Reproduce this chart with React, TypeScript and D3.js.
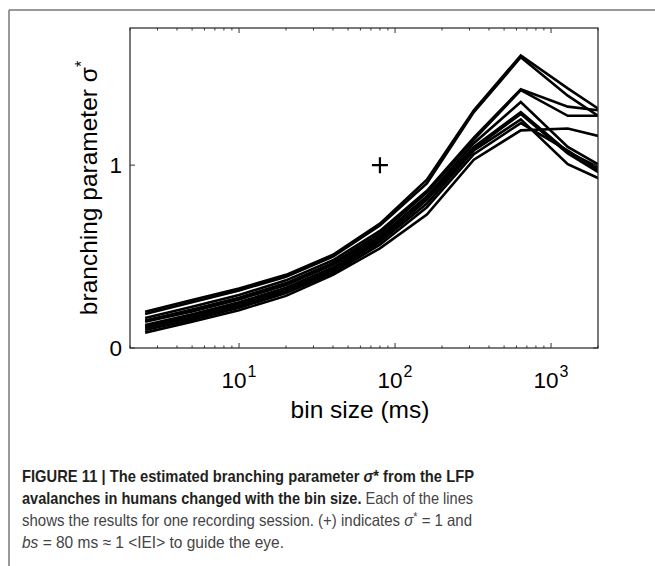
import React from "react";
import * as d3 from "d3";

const binSizes = [2.5, 5, 10, 20, 40, 80, 160, 320, 640, 1280, 2560];
const sessionA = [0.198, 0.262, 0.325, 0.4, 0.51, 0.68, 0.92, 1.3, 1.6, 1.42, 1.249];
const sessionB = [0.186, 0.25, 0.315, 0.39, 0.5, 0.67, 0.9, 1.29, 1.59, 1.38, 1.209];
const sessionC = [0.164, 0.225, 0.29, 0.37, 0.48, 0.64, 0.86, 1.15, 1.415, 1.32, 1.289];
const sessionD = [0.15, 0.21, 0.275, 0.355, 0.465, 0.625, 0.85, 1.14, 1.41, 1.27, 1.27];
const sessionE = [0.144, 0.2, 0.265, 0.345, 0.455, 0.61, 0.83, 1.12, 1.345, 1.1, 0.952];
const sessionF = [0.126, 0.185, 0.25, 0.33, 0.44, 0.6, 0.82, 1.1, 1.29, 1.073, 0.944];
const sessionG = [0.118, 0.175, 0.24, 0.32, 0.43, 0.59, 0.81, 1.09, 1.28, 1.064, 0.907];
const sessionH = [0.109, 0.165, 0.23, 0.31, 0.42, 0.58, 0.79, 1.08, 1.25, 1.005, 0.888];
const sessionI = [0.098, 0.155, 0.22, 0.3, 0.41, 0.565, 0.77, 1.06, 1.23, 1.08, 0.917];
const sessionJ = [0.084, 0.144, 0.207, 0.285, 0.4, 0.545, 0.73, 1.03, 1.19, 1.2, 1.138];
const sessions = [sessionA, sessionB, sessionC, sessionD, sessionE, sessionF, sessionG, sessionH, sessionI, sessionJ];

const xMajorTicks = [10, 100, 1000];
const xTickExponents = ["1", "2", "3"];
const yTicks = [0, 1];
const marker = { bs: 80, sigma: 1 };

const W = 655;
const H = 566;
const L = 130, R = 598, T = 28, B = 348;

export default function App() {
  const x = d3.scaleLog().domain([2, 2000]).range([L, R]);
  const y = d3.scaleLinear().domain([0, 1.75]).range([B, T]);
  const line = d3
    .line<[number, number]>()
    .x((d) => x(d[0]))
    .y((d) => y(d[1]));

  const minor: number[] = [];
  for (const p of [1, 10, 100, 1000]) {
    for (let k = 2; k <= 9; k++) {
      const v = k * p;
      if (v >= 2 && v <= 2000 && !xMajorTicks.includes(v)) minor.push(v);
    }
  }

  const axisColor = "#333";
  const font = "'Liberation Sans', Arial, Helvetica, sans-serif";
  const capFont = "'Liberation Sans Narrow', 'Arial Narrow', 'Liberation Sans', sans-serif";
  const mx = x(marker.bs);
  const my = y(marker.sigma);

  return (
    <svg
      width={W}
      height={H}
      style={{ position: "absolute", left: 0, top: 0, background: "#fff" }}
    >
      <rect x={0} y={0} width={W} height={H} fill="#fff" />
      {/* page frame */}
      <line x1={9} y1={10} x2={W} y2={10} stroke="#777" strokeWidth={1.5} />
      <line x1={9} y1={10} x2={9} y2={H} stroke="#777" strokeWidth={1.5} />

      <defs>
        <clipPath id="plotclip">
          <rect x={L} y={T} width={R - L} height={B - T} />
        </clipPath>
      </defs>

      <g clipPath="url(#plotclip)">
        {sessions.map((s, i) => (
          <path
            key={i}
            d={line(binSizes.map((b, j) => [b, s[j]] as [number, number])) || ""}
            fill="none"
            stroke="#000"
            strokeWidth={2.6}
            strokeLinejoin="miter"
          />
        ))}
      </g>

      {/* marker + */}
      <path
        d={`M${mx - 8},${my}H${mx + 8}M${mx},${my - 8}V${my + 8}`}
        stroke="#000"
        strokeWidth={2.2}
        fill="none"
      />

      {/* axes box */}
      <rect x={L} y={T} width={R - L} height={B - T} fill="none" stroke={axisColor} strokeWidth={1.3} />

      {/* x ticks */}
      {xMajorTicks.map((t) => (
        <g key={"M" + t}>
          <line x1={x(t)} x2={x(t)} y1={B} y2={B - 5} stroke={axisColor} strokeWidth={1} />
          <line x1={x(t)} x2={x(t)} y1={T} y2={T + 5} stroke={axisColor} strokeWidth={1} />
        </g>
      ))}
      {minor.map((t) => (
        <g key={"m" + t}>
          <line x1={x(t)} x2={x(t)} y1={B} y2={B - 2.5} stroke={axisColor} strokeWidth={1} />
          <line x1={x(t)} x2={x(t)} y1={T} y2={T + 2.5} stroke={axisColor} strokeWidth={1} />
        </g>
      ))}
      {xMajorTicks.map((t, i) => (
        <text key={"l" + t} x={x(t)} y={388} textAnchor="middle" fontFamily={font} fontSize={22.5} fill="#000">
          10
          <tspan dx={1} dy={-11} fontSize={16}>
            {xTickExponents[i]}
          </tspan>
        </text>
      ))}

      {/* y ticks */}
      {yTicks.map((t) => (
        <g key={"y" + t}>
          <line x1={L} x2={L + 5} y1={y(t)} y2={y(t)} stroke={axisColor} strokeWidth={1} />
          <line x1={R} x2={R - 5} y1={y(t)} y2={y(t)} stroke={axisColor} strokeWidth={1} />
          <text x={122} y={y(t) + 8} textAnchor="end" fontFamily={font} fontSize={22.5} fill="#000">
            {t}
          </text>
        </g>
      ))}

      {/* axis labels */}
      <text x={360} y={418} textAnchor="middle" fontFamily={font} fontSize={24.5} fill="#000">
        bin size (ms)
      </text>
      <text
        transform={`translate(97, ${(T + B) / 2}) rotate(-90)`}
        textAnchor="middle"
        fontFamily={font}
        fontSize={24.5}
        fill="#000"
      >
        branching parameter σ
        <tspan dy={-10} fontSize={16}>*</tspan>
      </text>

      {/* caption */}
      <g fontFamily={capFont} fontSize={16.5}>
        <text x={22} y={482} fill="#231f20" fontWeight="bold" textLength={452} lengthAdjust="spacingAndGlyphs">
          FIGURE 11 | The estimated branching parameter <tspan fontStyle="italic">σ</tspan>* from the LFP
        </text>
        <text x={22} y={504} textLength={451} lengthAdjust="spacingAndGlyphs">
          <tspan fill="#231f20" fontWeight="bold">avalanches in humans changed with the bin size.</tspan>
          <tspan fill="#444"> Each of the lines</tspan>
        </text>
        <text x={22} y={526} fill="#444" textLength={450} lengthAdjust="spacingAndGlyphs">
          shows the results for one recording session. (+) indicates <tspan fontStyle="italic">σ</tspan>
          <tspan dy={-5} fontSize={12}>*</tspan>
          <tspan dy={5}> = 1 and</tspan>
        </text>
        <text x={22} y={548} fill="#444" textLength={262} lengthAdjust="spacingAndGlyphs">
          <tspan fontStyle="italic">bs</tspan> = 80 ms ≈ 1 &lt;IEI&gt; to guide the eye.
        </text>
      </g>
    </svg>
  );
}
